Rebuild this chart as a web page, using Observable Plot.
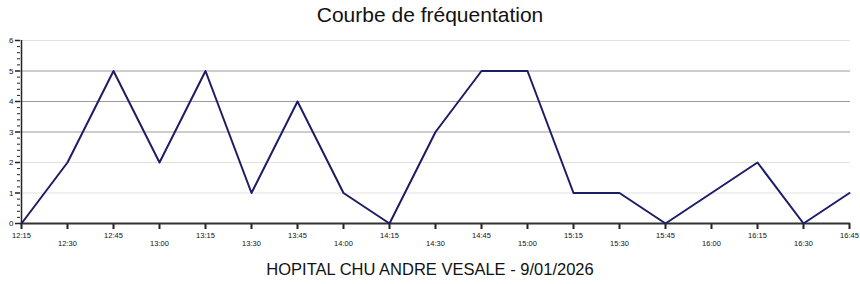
<!DOCTYPE html>
<html>
<head>
<meta charset="utf-8">
<script src="https://cdn.jsdelivr.net/npm/d3@7"></script>
<script src="https://cdn.jsdelivr.net/npm/@observablehq/plot@0.6"></script>
<style>
  body { margin: 0; background: #fff; font-family: "Liberation Sans", Arial, sans-serif; }
  #title { height: 31px; line-height: 30px; text-align: center; font-size: 21px; color: #111; }
  #caption { height: 28px; line-height: 26px; text-align: center; font-size: 16.5px; color: #111; }
  svg { display: block; }
</style>
</head>
<body>
<div id="title">Courbe de fréquentation</div>
<div id="chart"></div>
<div id="caption">HOPITAL CHU ANDRE VESALE - 9/01/2026</div>
<script>
const times = ["12:15","12:30","12:45","13:00","13:15","13:30","13:45","14:00","14:15","14:30","14:45","15:00","15:15","15:30","15:45","16:00","16:15","16:30","16:45"];
const visits = [0,2,5,2,5,1,4,1,0,3,5,5,1,1,0,1,2,0,1];
const yMajor = [0,1,2,3,4,5,6];
const darkGrid = [3,4,5];
const lightGrid = [1,2,6];

const data = times.map((t, i) => ({time: t, value: visits[i]}));
const yMinor = d3.range(0, 6.0001, 0.2).map(v => +v.toFixed(1)).filter(v => !yMajor.includes(v));
const evenTimes = times.filter((t, i) => i % 2 === 0);
const oddTimes = times.filter((t, i) => i % 2 === 1);

const chart = Plot.plot({
  width: 860,
  height: 225,
  marginLeft: 20,
  marginRight: 10,
  marginTop: 9,
  marginBottom: 33,
  style: {fontFamily: "Liberation Sans, Arial, sans-serif", background: "#fff", color: "#111"},
  x: {type: "point", domain: times, padding: 0, label: null},
  y: {domain: [0, 6], label: null},
  marks: [
    Plot.ruleY(lightGrid, {stroke: "#e2e2e2", strokeWidth: 1}),
    Plot.ruleY(darkGrid, {stroke: "#9a9a9a", strokeWidth: 1}),
    Plot.axisY({ticks: yMinor, tickSize: 3, tickFormat: () => "", stroke: "#222", strokeWidth: 1}),
    Plot.axisY({ticks: yMajor, tickSize: 5, tickPadding: 2, tickFormat: d3.format("d"), fontSize: 8, stroke: "#222", strokeWidth: 1.5, label: null}),
    Plot.ruleX([times[0]], {y1: 0, y2: 6, stroke: "#222", strokeWidth: 1.5}),
    Plot.axisX({ticks: evenTimes, tickSize: 6, tickPadding: 3, fontSize: 7.5, stroke: "#222", strokeWidth: 2, label: null}),
    Plot.axisX({ticks: oddTimes, tickSize: 6, tickPadding: 11, fontSize: 7.5, stroke: "#222", strokeWidth: 2, label: null}),
    Plot.ruleY([0], {stroke: "#333", strokeWidth: 2}),
    Plot.line(data, {x: "time", y: "value", stroke: "#1d1d66", strokeWidth: 2})
  ]
});
document.getElementById("chart").append(chart);
</script>
</body>
</html>
